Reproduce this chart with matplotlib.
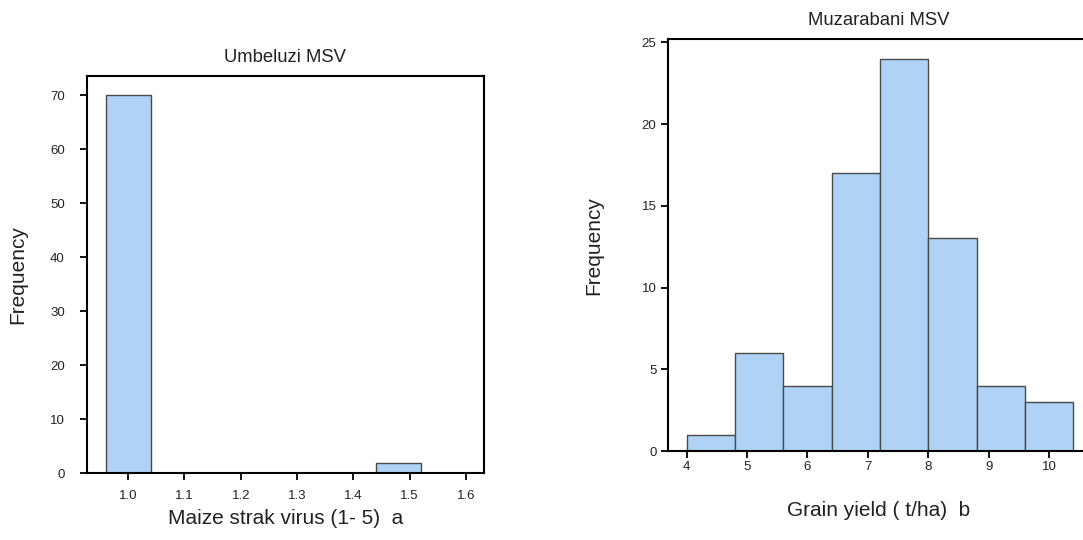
import numpy as np
import matplotlib.pyplot as plt

plt.rcParams['font.family'] = ['Liberation Sans', 'DejaVu Sans']

# Umbeluzi: maize streak virus score, bins of width 0.08
msv_edges = [0.96, 1.04, 1.12, 1.20, 1.28, 1.36, 1.44, 1.52, 1.60]
msv_counts = [70, 0, 0, 0, 0, 0, 2, 0]
msv_ticks = [1.0, 1.1, 1.2, 1.3, 1.4, 1.5, 1.6]
msv_yticks = [0, 10, 20, 30, 40, 50, 60, 70]

# Muzarabani: grain yield (t/ha), bins of width 0.8
gy_edges = [4.0, 4.8, 5.6, 6.4, 7.2, 8.0, 8.8, 9.6, 10.4]
gy_counts = [1, 6, 4, 17, 24, 13, 4, 3]
gy_ticks = [4, 5, 6, 7, 8, 9, 10]
gy_yticks = [0, 5, 10, 15, 20, 25]

bar_color = '#b0d2f5'
edge_color = '#4a4a4a'
text_color = '#222222'

fig = plt.figure(figsize=(10.83, 5.40), dpi=100)
ax1 = fig.add_axes([0.0803, 0.1235, 0.3666, 0.7363])
ax2 = fig.add_axes([0.6165, 0.1648, 0.3900, 0.7624])


def draw_hist(ax, edges, counts):
    edges = np.asarray(edges)
    ax.bar(edges[:-1], counts, width=np.diff(edges), align='edge',
           color=bar_color, edgecolor=edge_color, linewidth=1.0, zorder=2)


def style_axes(ax):
    for s in ax.spines.values():
        s.set_linewidth(1.5)
        s.set_color('black')
    ax.tick_params(direction='out', length=5, width=1.3, color='black',
                   labelsize=9.5, labelcolor=text_color)


# left panel
draw_hist(ax1, msv_edges, msv_counts)
ax1.set_xlim(0.927, 1.632)
ax1.set_ylim(0, 73.6)
ax1.set_xticks(msv_ticks)
ax1.set_xticklabels([f'{t:.1f}' for t in msv_ticks])
ax1.set_yticks(msv_yticks)
style_axes(ax1)
ax1.tick_params(axis='x', pad=7)
ax1.tick_params(axis='y', pad=11)
ax1.set_title('Umbeluzi MSV', fontsize=13.3, color=text_color, pad=10)
ax1.set_xlabel('Maize strak virus (1- 5)  a', fontsize=15, color=text_color, labelpad=5)
ax1.set_ylabel('Frequency', fontsize=15, color=text_color, labelpad=16)

# right panel
draw_hist(ax2, gy_edges, gy_counts)
ax2.set_xlim(3.686, 10.677)
ax2.set_ylim(0, 25.18)
ax2.set_xticks(gy_ticks)
ax2.set_yticks(gy_yticks)
style_axes(ax2)
ax2.tick_params(axis='x', pad=2)
ax2.tick_params(axis='y', pad=3)
ax2.set_title('Muzarabani MSV', fontsize=13.3, color=text_color, pad=10)
ax2.set_xlabel('Grain yield ( t/ha)  b', fontsize=15, color=text_color, labelpad=20)
ax2.set_ylabel('Frequency', fontsize=15, color=text_color, labelpad=28)

fig.savefig('out.png', dpi=100, facecolor='white')
